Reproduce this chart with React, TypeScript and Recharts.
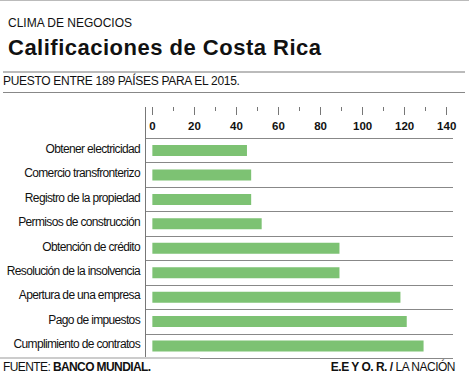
import React from "react";
import { BarChart, Bar, XAxis, YAxis, CartesianGrid } from "recharts";

const categories = [
  "Obtener electricidad",
  "Comercio transfronterizo",
  "Registro de la propiedad",
  "Permisos de construcción",
  "Obtención de crédito",
  "Resolución de la insolvencia",
  "Apertura de una empresa",
  "Pago de impuestos",
  "Cumplimiento de contratos",
];
const ranks = [45, 47, 47, 52, 89, 89, 118, 121, 129];
const tickValues = [0, 10, 20, 30, 40, 50, 60, 70, 80, 90, 100, 110, 120, 130, 140];
const labelledTicks = [0, 20, 40, 60, 80, 100, 120, 140];

const data = categories.map((name, i) => ({ name, value: ranks[i] }));

const FONT = "'Liberation Sans', Arial, Helvetica, sans-serif";
const TICK_TOP = 107;

const XTick = (props: any) => {
  const { x, payload } = props;
  const v = payload.value;
  const major = labelledTicks.includes(v);
  return (
    <g>
      <rect x={Math.round(x - 0.5)} y={TICK_TOP} width={1} height={major ? 8 : 4} fill="#777" />
      {major && (
        <text x={x} y={TICK_TOP + 23} textAnchor="middle" fontFamily={FONT} fontWeight={900} fontSize={11.5} fill="#111">
          {v}
        </text>
      )}
    </g>
  );
};

const YTick = (props: any) => {
  const { x, y, payload } = props;
  return (
    <text x={x} y={y} dy={-1.5} textAnchor="end" dominantBaseline="central" fontFamily={FONT} fontSize={12} letterSpacing={-0.65} fill="#111">
      {payload.value}
    </text>
  );
};

const abs = (s: React.CSSProperties): React.CSSProperties => ({ position: "absolute", ...s });

export default function App() {
  return (
    <div style={{ position: "absolute", left: 0, top: 0, width: 469, height: 378, background: "#fff", fontFamily: FONT, color: "#111", overflow: "hidden" }}>
      <div style={abs({ left: 0, top: 0, width: 469, height: 1, background: "#bbb" })} />
      <div style={abs({ left: 8, top: 14.5, fontSize: 12, lineHeight: "16px" })}>CLIMA DE NEGOCIOS</div>
      <div style={abs({ left: 8, top: 34.5, fontSize: 22, fontWeight: 700, lineHeight: "26px", letterSpacing: 0.5, whiteSpace: "nowrap" })}>
        Calificaciones de Costa Rica
      </div>
      <div style={abs({ left: 3, top: 71, width: 462, height: 2, background: "#bbb" })} />
      <div style={abs({ left: 3, top: 74.3, fontSize: 12, lineHeight: "15px", letterSpacing: -0.3, whiteSpace: "nowrap" })}>
        PUESTO ENTRE 189 PAÍSES PARA EL 2015.
      </div>
      <div style={abs({ left: 3, top: 91.5, width: 462, height: 1, background: "#888" })} />

      <div style={abs({ left: 0, top: 0 })}>
        <BarChart
          width={469}
          height={378}
          data={data}
          layout="vertical"
          margin={{ top: 107, right: 16, bottom: 20, left: 0 }}
        >
          <CartesianGrid
            vertical={false}
            stroke="#888"
            strokeWidth={1}
            horizontalCoordinatesGenerator={({ offset }: any) =>
              categories
                .concat([""])
                .map((_, i) => Math.round(offset.top + (i * offset.height) / categories.length) + 0.5)
            }
          />
          <XAxis
            type="number"
            orientation="top"
            domain={[-3.5, 143]}
            ticks={tickValues}
            interval={0}
            height={31}
            axisLine={false}
            tickLine={false}
            tick={<XTick />}
          />
          <YAxis
            type="category"
            dataKey="name"
            width={145}
            axisLine={false}
            tickLine={false}
            tickSize={0}
            tickMargin={5}
            interval={0}
            tick={<YTick />}
          />
          <Bar dataKey="value" fill="#7dc273" barSize={11} isAnimationActive={false} />
        </BarChart>
      </div>

      <div style={abs({ left: 145, top: 107, width: 1, height: 251, background: "#777" })} />
      <div style={abs({ left: 0, top: 357, width: 200, height: 2, background: "#ccc" })} />
      <div style={abs({ left: 3, top: 360, fontSize: 12, lineHeight: "15px", letterSpacing: -0.6, whiteSpace: "nowrap" })}>
        FUENTE: <b style={{ fontWeight: 900 }}>BANCO MUNDIAL.</b>
      </div>
      <div style={abs({ right: 14, top: 360, fontSize: 12, lineHeight: "15px", letterSpacing: -0.5, textAlign: "right", whiteSpace: "nowrap" })}>
        <b style={{ fontWeight: 900 }}>E.E Y O. R.</b> <b>/</b> LA NACIÓN
      </div>
    </div>
  );
}
